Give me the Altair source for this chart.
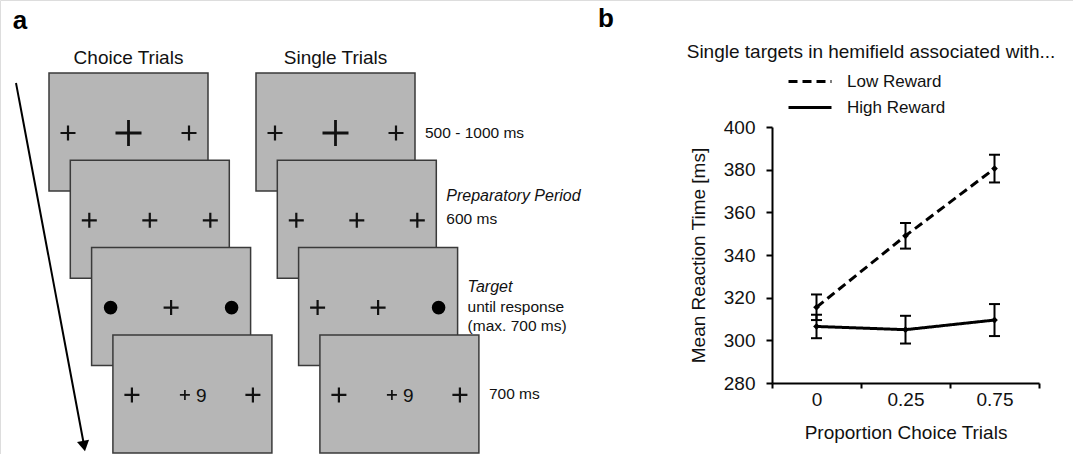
import altair as alt
import pandas as pd

# ---------------- data: panel b ----------------
proportions = ["0", "0.25", "0.75"]
series = ["Low Reward", "High Reward"]
low_mean = [315.5, 349.0, 380.5]
low_err = [6.0, 6.0, 6.5]
high_mean = [306.5, 305.0, 309.5]
high_err = [5.5, 6.5, 7.5]
y_ticks = [280, 300, 320, 340, 360, 380, 400]
y_domain = [280, 400]

# ---------------- content: panel a ----------------
column_titles = ["Choice Trials", "Single Trials"]
choice_stimuli = [["cross", "bigcross", "cross"],
                  ["cross", "cross", "cross"],
                  ["dot", "cross", "dot"],
                  ["cross", "cross9", "cross"]]
single_stimuli = [["cross", "bigcross", "cross"],
                  ["cross", "cross", "cross"],
                  ["cross", "cross", "dot"],
                  ["cross", "cross9", "cross"]]
phase_lines = [["500 - 1000 ms"],
               ["Preparatory Period", "600 ms"],
               ["Target", "until response", "(max. 700 ms)"],
               ["700 ms"]]
phase_first_italic = [False, True, True, False]
feedback_digit = "9"
panel_letters = ["a", "b"]
panel_b_title = "Single targets in hemifield associated with..."

# ---------------- layout (pixels) ----------------
W, H = 1073, 454
FONT = "Liberation Sans"
col_x0 = [49, 256]
scr_y0, step_dx, step_dy = 73, 21.3, 87.3
scr_w, scr_h = 159, 118
slot_dx = [19, 79.5, 140]
slot_dy = 60
col_title_y = 58
phase_x_gap = 10
phase_y = [[133], [196, 219], [287, 307, 326], [394]]
letter_pos = [(20, 21), (606, 19)]
title_pos = (871, 52)
arrow = (16, 83, 84, 445)
plot_x = [772, 1039]
plot_y = [383, 127]

PX = alt.Scale(domain=[0, W], range=[0, W])
PY = alt.Scale(domain=[0, H], range=[0, H])


def px(field):
    return alt.X(field, type="quantitative", scale=PX, axis=None)


def py(field):
    return alt.Y(field, type="quantitative", scale=PY, axis=None)


# ---- build panel a tables ----
screens, crosses, dots, digits, texts_n, texts_i, heads = [], [], [], [], [], [], []
for c, stim in enumerate([choice_stimuli, single_stimuli]):
    heads.append({"t": column_titles[c], "x": col_x0[c] + scr_w / 2, "y": col_title_y})
    for i, row in enumerate(stim):
        x0 = col_x0[c] + i * step_dx
        y0 = scr_y0 + i * step_dy
        screens.append({"x": x0, "x2": x0 + scr_w, "y": y0, "y2": y0 + scr_h, "o": c * 10 + i})
        for j, kind in enumerate(row):
            sx, sy = x0 + slot_dx[j], y0 + slot_dy
            if kind == "cross":
                crosses.append({"x": sx, "y": sy, "s": 225, "w": 2.2})
            elif kind == "bigcross":
                crosses.append({"x": sx, "y": sy, "s": 676, "w": 2.8})
            elif kind == "dot":
                dots.append({"x": sx, "y": sy})
            elif kind == "cross9":
                crosses.append({"x": sx - 7.5, "y": sy, "s": 100, "w": 1.7})
                digits.append({"x": sx + 9, "y": sy + 1, "t": feedback_digit})

for i, lines in enumerate(phase_lines):
    tx = col_x0[1] + i * step_dx + scr_w + phase_x_gap
    for k, line in enumerate(lines):
        rec = {"x": tx, "y": phase_y[i][k], "t": line}
        if k == 0 and phase_first_italic[i]:
            texts_i.append(rec)
        else:
            texts_n.append(rec)

screens_df = pd.DataFrame(screens)
layers = []
layers.append(
    alt.Chart(screens_df).mark_rect(fill="#b6b6b6", stroke="#3a3a3a", strokeWidth=1.5)
    .encode(x=px("x"), x2="x2", y=py("y"), y2="y2", order=alt.Order("o:Q"))
)
layers.append(
    alt.Chart(pd.DataFrame(crosses)).mark_point(shape="M-1,0L1,0M0,-1L0,1", filled=False,
                                                 color="#111111", opacity=1)
    .encode(x=px("x"), y=py("y"), size=alt.Size("s:Q", scale=None),
            strokeWidth=alt.StrokeWidth("w:Q", scale=None))
)
layers.append(
    alt.Chart(pd.DataFrame(dots)).mark_circle(size=185, color="black", opacity=1)
    .encode(x=px("x"), y=py("y"))
)
layers.append(
    alt.Chart(pd.DataFrame(digits)).mark_text(font=FONT, fontSize=19, color="#111111")
    .encode(x=px("x"), y=py("y"), text="t:N")
)
layers.append(
    alt.Chart(pd.DataFrame(texts_n)).mark_text(font=FONT, fontSize=15.5, align="left", color="#111111")
    .encode(x=px("x"), y=py("y"), text="t:N")
)
layers.append(
    alt.Chart(pd.DataFrame(texts_i)).mark_text(font=FONT, fontSize=16, fontStyle="italic",
                                               align="left", color="#111111")
    .encode(x=px("x"), y=py("y"), text="t:N")
)
layers.append(
    alt.Chart(pd.DataFrame(heads)).mark_text(font=FONT, fontSize=19, color="#111111")
    .encode(x=px("x"), y=py("y"), text="t:N")
)
layers.append(
    alt.Chart(pd.DataFrame([{"x": letter_pos[k][0], "y": letter_pos[k][1], "t": panel_letters[k]}
                            for k in range(2)]))
    .mark_text(font=FONT, fontSize=26, fontWeight="bold", color="black")
    .encode(x=px("x"), y=py("y"), text="t:N")
)
layers.append(
    alt.Chart(pd.DataFrame([{"x": title_pos[0], "y": title_pos[1], "t": panel_b_title}]))
    .mark_text(font=FONT, fontSize=19, color="#111111")
    .encode(x=px("x"), y=py("y"), text="t:N")
)
layers.append(
    alt.Chart(pd.DataFrame([{"x": arrow[0], "y": arrow[1], "x2": arrow[2], "y2": arrow[3]}]))
    .mark_rule(color="black", strokeWidth=2)
    .encode(x=px("x"), y=py("y"), x2="x2", y2="y2")
)
layers.append(
    alt.Chart(pd.DataFrame([{"x": arrow[2], "y": arrow[3] + 1}]))
    .mark_point(shape="triangle-down", filled=True, size=150, angle=349.4, color="black", opacity=1)
    .encode(x=px("x"), y=py("y"))
)

# ---- panel b ----
rows = []
for s, means, errs in [(series[0], low_mean, low_err), (series[1], high_mean, high_err)]:
    for p, m, e in zip(proportions, means, errs):
        rows.append({"prop": p, "reward": s, "rt": m, "lo": m - e, "hi": m + e})
df = pd.DataFrame(rows)
caps = pd.concat([df.assign(cap=df["lo"]), df.assign(cap=df["hi"])])

XS = alt.Scale(type="band", domain=proportions, range=plot_x, paddingInner=0, paddingOuter=0)
YS = alt.Scale(domain=y_domain, range=plot_y, nice=False, zero=False)


def bx(axis=None):
    return alt.X("prop:N", scale=XS, bandPosition=0.5, axis=axis)


def by(field, axis=None):
    return alt.Y(field, type="quantitative", scale=YS, axis=axis)


x_axis = alt.Axis(orient="bottom", offset=plot_y[0] - H, tickBand="extent", labelAngle=0,
                  title="Proportion Choice Trials", titleFontSize=19, titleFontWeight="normal",
                  titleFont=FONT, labelFont=FONT, labelFontSize=19, labelPadding=2,
                  tickSize=5, tickWidth=2, domainWidth=2, domainColor="black", tickColor="black",
                  labelColor="#111111", titleColor="#111111", titlePadding=14, grid=False)
y_axis = alt.Axis(orient="left", offset=-plot_x[0], values=y_ticks,
                  title="Mean Reaction Time [ms]", titleFontSize=19, titleFontWeight="normal",
                  titleFont=FONT, labelFont=FONT, labelFontSize=19, labelPadding=11,
                  tickSize=6, tickWidth=2, domainWidth=2, domainColor="black", tickColor="black",
                  labelColor="#111111", titleColor="#111111", titlePadding=15, grid=False)

layers.append(
    alt.Chart(df).mark_line(color="black", strokeWidth=3)
    .encode(x=bx(x_axis), y=by("rt", y_axis),
            strokeDash=alt.StrokeDash("reward:N",
                                      scale=alt.Scale(domain=series, range=[[9, 5], [1, 0]]),
                                      legend=alt.Legend(orient="none", legendX=787, legendY=73,
                                                        title=None, symbolType="stroke",
                                                        symbolSize=1849, symbolStrokeWidth=3,
                                                        symbolStrokeColor="black",
                                                        labelFont=FONT, labelFontSize=17,
                                                        labelColor="#111111", labelOffset=14,
                                                        clipHeight=17, rowPadding=8, padding=0)))
)
layers.append(
    alt.Chart(df).mark_rule(color="black", strokeWidth=2)
    .encode(x=bx(), y=by("lo"), y2="hi")
)
layers.append(
    alt.Chart(caps).mark_tick(color="black", size=11, thickness=2, orient="horizontal", opacity=1)
    .encode(x=bx(), y=by("cap"))
)
layers.append(
    alt.Chart(df).mark_point(shape="diamond", filled=True, size=45, color="black", opacity=1)
    .encode(x=bx(), y=by("rt"))
)

chart = (
    alt.layer(*layers)
    .resolve_scale(x="independent", y="independent")
    .properties(width=W, height=H, autosize=alt.AutoSizeParams(type="none"), padding=0)
    .configure_view(stroke=None)
    .configure(background="white", font=FONT)
)

chart.save("out.html", embed_options={"renderer": "svg", "actions": False})
